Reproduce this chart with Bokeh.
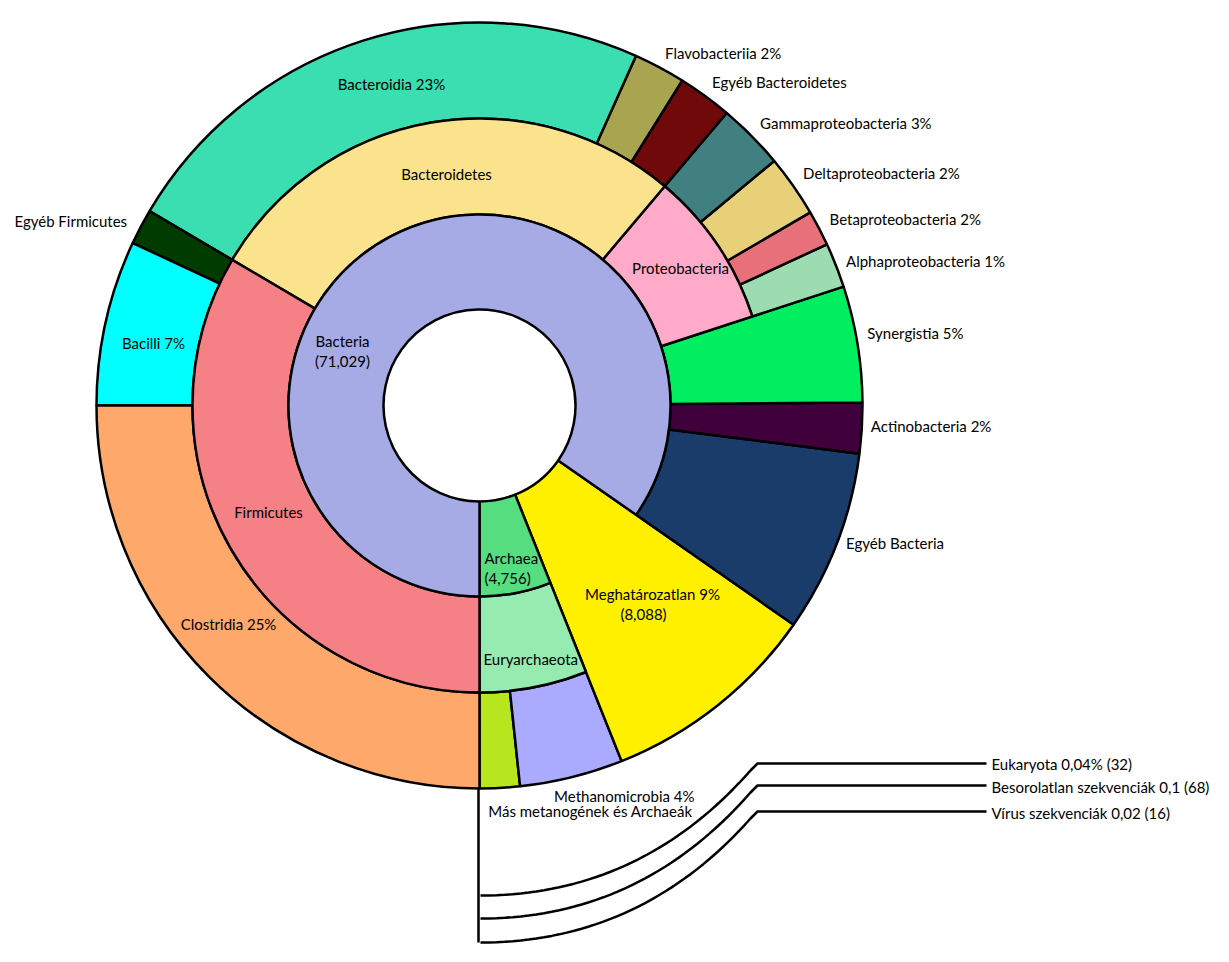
import numpy as np
from bokeh.plotting import figure
from bokeh.models import ColumnDataSource, Range1d
from bokeh.embed import file_html
from bokeh.resources import INLINE
from bokeh.core.properties import value

# ---------------- data ----------------
domains = ["Archaea", "Meghatározatlan", "Bacteria"]
domain_counts = [4756, 8088, 71029]

minor_names = ["Eukaryota", "Besorolatlan szekvenciák", "Vírus szekvenciák"]
minor_pct = ["0,04%", "0,1", "0,02"]
minor_counts = [32, 68, 16]

leaf_names = ["Más metanogének és Archaeák", "Methanomicrobia 4%", "Meghatározatlan 9%",
              "Egyéb Bacteria", "Actinobacteria 2%", "Synergistia 5%",
              "Alphaproteobacteria 1%", "Betaproteobacteria 2%", "Deltaproteobacteria 2%",
              "Gammaproteobacteria 3%", "Egyéb Bacteroidetes", "Flavobacteriia 2%",
              "Bacteroidia 23%", "Egyéb Firmicutes", "Bacilli 7%", "Clostridia 25%"]
# share of the whole circle (%)
leaf_share = [1.69, 4.36, 9.25, 7.69, 2.13, 4.90, 1.89, 1.50, 2.61, 2.81,
              2.29, 2.18, 23.22, 1.50, 6.97, 25.00]
leaf_phylum = ["Euryarchaeota", "Euryarchaeota", "Meghatározatlan",
               "Egyéb Bacteria", "Actinobacteria", "Synergistetes",
               "Proteobacteria", "Proteobacteria", "Proteobacteria", "Proteobacteria",
               "Bacteroidetes", "Bacteroidetes", "Bacteroidetes",
               "Firmicutes", "Firmicutes", "Firmicutes"]
leaf_domain = ["Archaea", "Archaea", "Meghatározatlan"] + ["Bacteria"] * 13

phyla = ["Euryarchaeota", "Meghatározatlan", "Egyéb Bacteria", "Actinobacteria",
         "Synergistetes", "Proteobacteria", "Bacteroidetes", "Firmicutes"]

# ---------------- styles ----------------
domain_colors = {"Archaea": "#55dd80", "Meghatározatlan": "#fff000", "Bacteria": "#a6abe6"}
phylum_colors = {"Euryarchaeota": "#95ebb0", "Proteobacteria": "#ffaac8",
                 "Bacteroidetes": "#fae38c", "Firmicutes": "#f58085"}
leaf_colors = {"Más metanogének és Archaeák": "#b8e61e", "Methanomicrobia 4%": "#aaaaff",
               "Meghatározatlan 9%": "#fff000", "Egyéb Bacteria": "#1a3c6a",
               "Actinobacteria 2%": "#40003c", "Synergistia 5%": "#00ee60",
               "Alphaproteobacteria 1%": "#9ddcb0", "Betaproteobacteria 2%": "#e8707a",
               "Deltaproteobacteria 2%": "#e8d078", "Gammaproteobacteria 3%": "#408080",
               "Egyéb Bacteroidetes": "#700a0a", "Flavobacteriia 2%": "#a8a450",
               "Bacteroidia 23%": "#3adeb0", "Egyéb Firmicutes": "#003c00",
               "Bacilli 7%": "#00ffff", "Clostridia 25%": "#ffa86c"}

W, H = 1212, 944
FONT = "Lato"
FS = "15px"


def Y(img_y):
    return H - img_y


CX, CY = 479, Y(405)
R = [96, 191, 287, 383]

# ---------------- geometry ----------------
share = np.array(leaf_share, dtype=float)
cum = np.concatenate([[0], np.cumsum(share)]) / share.sum()
a0 = -np.pi / 2 + 2 * np.pi * cum[:-1]
a1 = -np.pi / 2 + 2 * np.pi * cum[1:]

n_in_phylum = {p: leaf_phylum.count(p) for p in phyla}
n_in_domain = {d: leaf_domain.count(d) for d in domains}

# leaves
lw = dict(x=[], y=[], ri=[], ro=[], s=[], e=[], c=[])
for i, nm in enumerate(leaf_names):
    if n_in_domain[leaf_domain[i]] == 1:
        ri = R[0]
    elif n_in_phylum[leaf_phylum[i]] == 1:
        ri = R[1]
    else:
        ri = R[2]
    lw["x"].append(CX); lw["y"].append(CY); lw["ri"].append(ri); lw["ro"].append(R[3])
    lw["s"].append(a0[i]); lw["e"].append(a1[i]); lw["c"].append(leaf_colors[nm])

# phyla with several classes (middle ring)
pw = dict(x=[], y=[], ri=[], ro=[], s=[], e=[], c=[])
for p in phyla:
    idx = [i for i, q in enumerate(leaf_phylum) if q == p]
    if len(idx) > 1:
        pw["x"].append(CX); pw["y"].append(CY); pw["ri"].append(R[1]); pw["ro"].append(R[2])
        pw["s"].append(a0[idx[0]]); pw["e"].append(a1[idx[-1]]); pw["c"].append(phylum_colors[p])

# domains (inner ring)
dw = dict(x=[], y=[], ri=[], ro=[], s=[], e=[], c=[])
for d in domains:
    idx = [i for i, q in enumerate(leaf_domain) if q == d]
    if len(idx) > 1:
        dw["x"].append(CX); dw["y"].append(CY); dw["ri"].append(R[0]); dw["ro"].append(R[1])
        dw["s"].append(a0[idx[0]]); dw["e"].append(a1[idx[-1]]); dw["c"].append(domain_colors[d])

p = figure(width=W, height=H, x_range=Range1d(0, W), y_range=Range1d(0, H),
           output_backend="svg", toolbar_location=None, min_border=0)
p.axis.visible = False
p.grid.visible = False
p.outline_line_color = None
p.background_fill_color = "white"
p.border_fill_color = "white"

for src in (lw, pw, dw):
    p.annular_wedge(x="x", y="y", inner_radius="ri", outer_radius="ro",
                    start_angle="s", end_angle="e", fill_color="c",
                    line_color="black", line_width=2.5, source=ColumnDataSource(src))

# ---------------- leader lines for the tiny categories ----------------
t = np.linspace(0, 1, 40)
starts = [895, 918, 942]
ends = [763, 785, 811]
xs, ys = [], []
for sy, ey in zip(starts, ends):
    x0, y0 = CX + 1, sy
    cx_, cy_ = 640, sy
    x1, y1 = 750, ey + 7
    bx = (1 - t) ** 2 * x0 + 2 * (1 - t) * t * cx_ + t ** 2 * x1
    by = (1 - t) ** 2 * y0 + 2 * (1 - t) * t * cy_ + t ** 2 * y1
    bx = list(bx) + [757, 986]
    by = list(by) + [ey, ey]
    xs.append(bx)
    ys.append([Y(v) for v in by])
p.multi_line(xs, ys, line_color="black", line_width=2.5)
p.line([CX - 1, CX - 1], [Y(405 + R[3]), Y(starts[-1])], line_color="black", line_width=2.5)

# ---------------- labels ----------------
tx, ty, tt, ta = [], [], [], []


def lab(x, y, s, align="center"):
    tx.append(x); ty.append(Y(y)); tt.append(s); ta.append(align)


# outer labels outside the ring, at each class' mid angle (with small nudges)
outside_nudge = {"Egyéb Bacteria": (-2, -5), "Actinobacteria 2%": (-3, -3),
                 "Synergistia 5%": (-2, -9), "Alphaproteobacteria 1%": (-1, 0),
                 "Betaproteobacteria 2%": (0, -4), "Deltaproteobacteria 2%": (0, -6),
                 "Gammaproteobacteria 3%": (0, -4), "Egyéb Bacteroidetes": (0, -4),
                 "Flavobacteriia 2%": (0, -4)}
for i, nm in enumerate(leaf_names):
    m = (a0[i] + a1[i]) / 2
    if nm in outside_nudge:
        ddx, ddy = outside_nudge[nm]
        lab(CX + 395 * np.cos(m) + ddx, 405 - 395 * np.sin(m) + ddy, nm, "left")
    elif nm == "Egyéb Firmicutes":
        lab(CX + 395 * np.cos(m) - 3, 405 - 395 * np.sin(m), nm, "right")

lab(342, 340, domains[2])
lab(342, 360, f"({domain_counts[2]:,})")
lab(484, 557, domains[0], "left")
lab(484, 577, f"({domain_counts[0]:,})", "left")
lab(652, 593, leaf_names[2])
lab(643, 613, f"({domain_counts[1]:,})")
lab(483, 658, phyla[0], "left")
lab(268, 511, phyla[7])
lab(446, 173, phyla[6])
lab(680, 267, phyla[5])
lab(391, 83, leaf_names[12])
lab(153, 342, leaf_names[14])
lab(228, 623, leaf_names[15])
lab(694, 795, leaf_names[1], "right")
lab(692, 810, leaf_names[0], "right")
for k, (nm, pc, ct) in enumerate(zip(minor_names, minor_pct, minor_counts)):
    lab(991, ends[k] + (1 if k else 0), f"{nm} {pc} ({ct})", "left")

p.text(x=tx, y=ty, text=tt, text_align=ta, text_baseline="middle",
       text_font=value(FONT), text_font_size=FS, text_color="black")

open("out.html", "w").write(file_html(p, INLINE))
